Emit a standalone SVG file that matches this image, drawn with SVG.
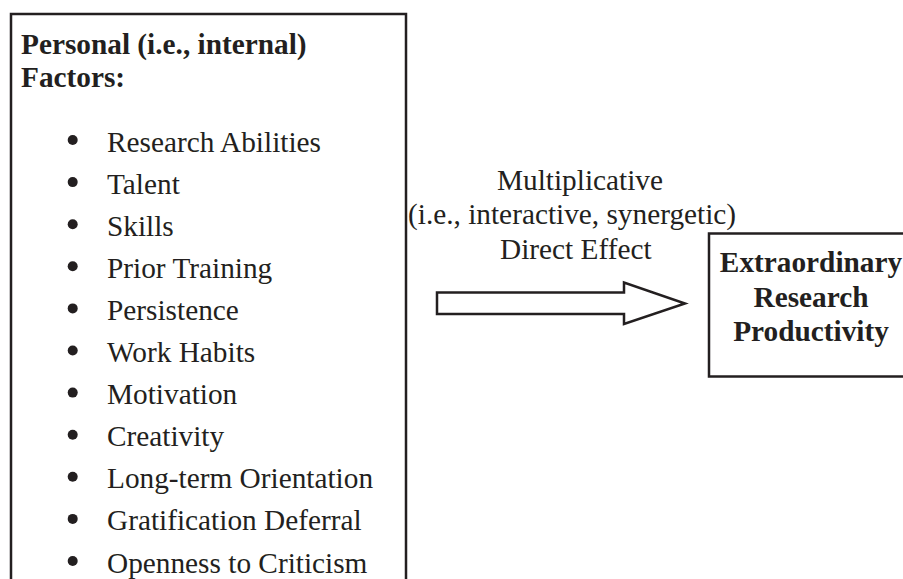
<svg xmlns="http://www.w3.org/2000/svg" width="903" height="579" viewBox="0 0 903 579">
<style>
.box{fill:#fff;stroke:#231f20;stroke-width:2.5}
.t{font-family:"Liberation Serif","Times New Roman",serif;font-size:29.3px;fill:#231f20}
.b{font-weight:bold}
.dot{fill:#231f20}
</style>
<rect width="903" height="579" fill="#fff"/>
<g id="personal-factors">
<rect class="box" x="11" y="14" width="395" height="600"/>
<text class="t b" x="21" y="54">Personal (i.e., internal)</text>
<text class="t b" x="21" y="87">Factors:</text>
<circle class="dot" cx="72.7" cy="140" r="5"/><text class="t" x="107" y="151.5">Research Abilities</text>
<circle class="dot" cx="72.7" cy="182.1" r="5"/><text class="t" x="107" y="193.6">Talent</text>
<circle class="dot" cx="72.7" cy="224.2" r="5"/><text class="t" x="107" y="235.7">Skills</text>
<circle class="dot" cx="72.7" cy="266.3" r="5"/><text class="t" x="107" y="277.8">Prior Training</text>
<circle class="dot" cx="72.7" cy="308.4" r="5"/><text class="t" x="107" y="319.9">Persistence</text>
<circle class="dot" cx="72.7" cy="350.5" r="5"/><text class="t" x="107" y="362">Work Habits</text>
<circle class="dot" cx="72.7" cy="392.6" r="5"/><text class="t" x="107" y="404.1">Motivation</text>
<circle class="dot" cx="72.7" cy="434.7" r="5"/><text class="t" x="107" y="446.2">Creativity</text>
<circle class="dot" cx="72.7" cy="476.8" r="5"/><text class="t" x="107" y="488.3">Long-term Orientation</text>
<circle class="dot" cx="72.7" cy="518.9" r="5"/><text class="t" x="107" y="530.4">Gratification Deferral</text>
<circle class="dot" cx="72.7" cy="561" r="5"/><text class="t" x="107" y="572.5">Openness to Criticism</text>
</g>
<g id="productivity">
<rect class="box" x="709" y="233.5" width="220" height="143"/>
<text class="t b" x="811" y="271.5" text-anchor="middle">Extraordinary</text>
<text class="t b" x="811" y="306.5" text-anchor="middle">Research</text>
<text class="t b" x="811" y="341" text-anchor="middle">Productivity</text>
</g>
<g id="connectors">
<polygon class="box" stroke-linejoin="miter" points="437,292.5 624,292.5 624,282.5 685,303.5 624,324 624,314 437,314"/>
<text class="t" x="497" y="189.5">Multiplicative</text>
<text class="t" x="408" y="224">(i.e., interactive, synergetic)</text>
<text class="t" x="500" y="258.5">Direct Effect</text>
</g>
</svg>
